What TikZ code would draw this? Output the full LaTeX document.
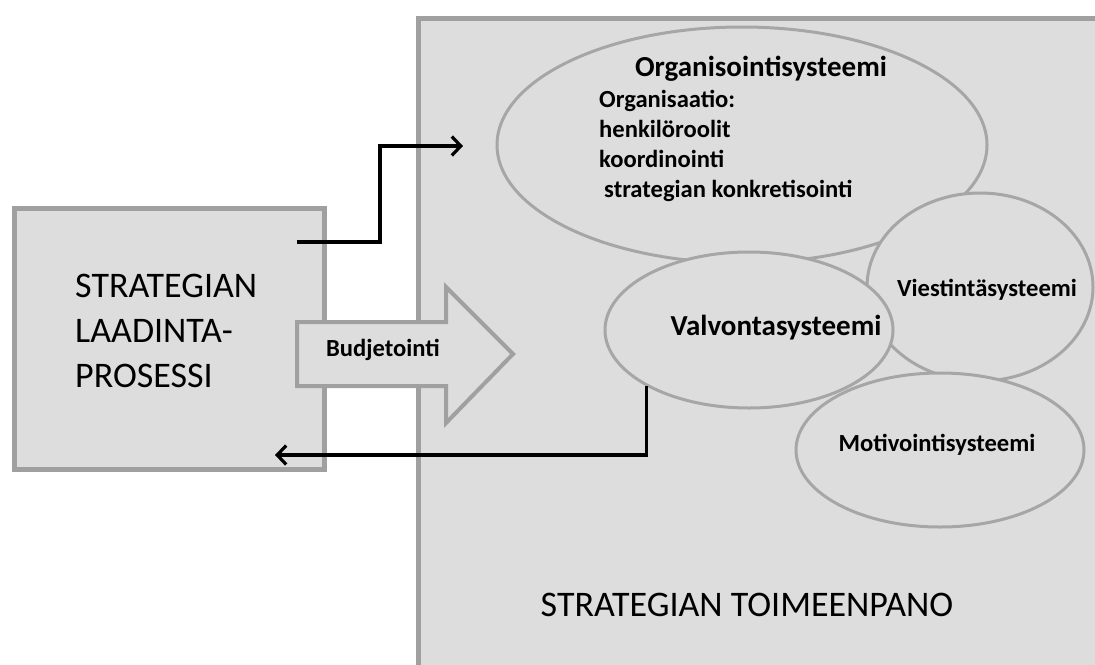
\documentclass[tikz,border=0pt]{standalone}
\usepackage{fontspec}
\setmainfont{Carlito}
\usetikzlibrary{shapes.geometric,arrows.meta}
\definecolor{panel}{RGB}{221,221,221}
\definecolor{rim}{RGB}{160,160,160}
\definecolor{oval}{RGB}{166,166,166}

\begin{document}
\begin{tikzpicture}[x=1pt,y=-1pt,
  panelbox/.style={rectangle,fill=panel,draw=rim,line width=5pt,inner sep=0pt,anchor=north west},
  sysoval/.style={ellipse,fill=panel,draw=oval,line width=3pt,inner sep=0pt},
  flow/.style={line width=3.2pt,-{Straight Barb[length=9pt,width=19pt]}},
  label/.style={inner sep=0pt,text=black},
  big/.style={label,font=\fontsize{36}{45}\selectfont},
  title/.style={label,font=\bfseries\fontsize{29}{36}\selectfont},
  small/.style={label,font=\bfseries\fontsize{24.6}{30}\selectfont}
]
\useasboundingbox (0,0) rectangle (1095,664);
\clip (0,0) rectangle (1095,664);

% main panels
\node[panelbox,minimum width=710pt,minimum height=680pt] (exec) at (416,16) {};
\node[panelbox,minimum width=310pt,minimum height=261pt] (plan) at (12,206) {};

% budgeting block arrow
\draw[fill=panel,draw=rim,line width=4pt,miter limit=10]
  (297,322) -- (446,322) -- (446,287) -- (513,354) -- (446,423) -- (446,386) -- (297,386) -- cycle;
\node[small,anchor=base] (budget) at (383,356) {Budjetointi};

% subsystems
\node[sysoval,minimum width=490pt,minimum height=236pt] (org) at (742,145) {};
\node[sysoval,minimum width=226pt,minimum height=188pt] (comm) at (980,287) {};
\node[sysoval,minimum width=288pt,minimum height=156pt] (ctrl) at (749,330) {};
\node[sysoval,minimum width=288pt,minimum height=154pt] (motiv) at (940,450) {};

% texts (multi-line nodes are anchored at the baseline of their last line)
\node[big,anchor=base west,align=left] (plantext) at (75,387)
  {STRATEGIAN\\LAADINTA-\\PROSESSI};
\node[big,anchor=base] (exectext) at (747,616) {STRATEGIAN TOIMEENPANO};
\node[title,anchor=base] (orgtitle) at (761,76) {Organisointisysteemi};
\node[small,anchor=base west,align=left] (orgitems) at (599,197)
  {Organisaatio:\\henkilöroolit\\koordinointi\\\hspace*{5pt}strategian konkretisointi};
\node[title,anchor=base] (ctrltext) at (776,335) {Valvontasysteemi};
\node[small,anchor=base] (commtext) at (987,296) {Viestintäsysteemi};
\node[small,anchor=base] (motivtext) at (937,451) {Motivointisysteemi};

% connectors
\coordinate (out1) at (297,242);
\coordinate (in1) at (463,146);
\coordinate (in2) at (275,455);
\draw[flow] (out1) -- (380,242) |- (in1);
\draw[flow] (ctrl.south west) |- (in2);
\end{tikzpicture}
\end{document}
